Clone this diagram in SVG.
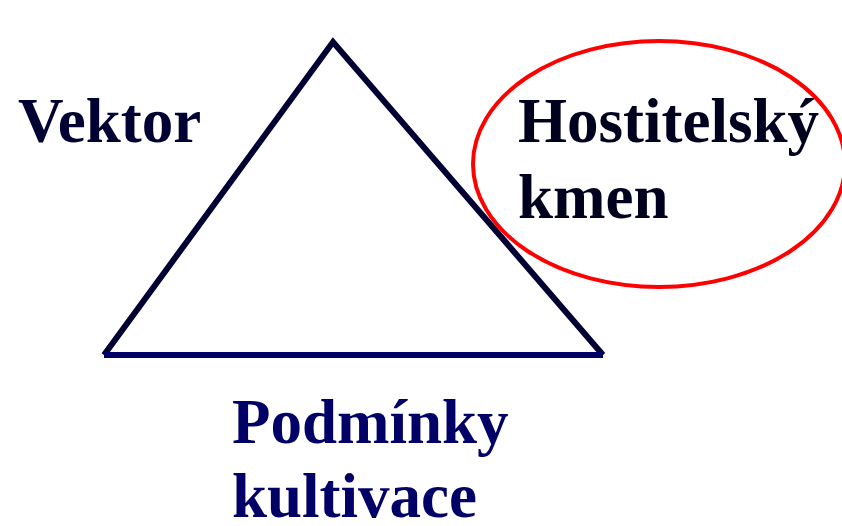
<svg xmlns="http://www.w3.org/2000/svg" width="842" height="526" viewBox="0 0 842 526">
<style>
.t{font-family:"Liberation Serif","Times New Roman",serif;font-weight:bold;font-size:63px}
</style>
<rect width="842" height="526" fill="#ffffff"/>
<g id="triangle">
<path d="M104,355 L333,42 L603,355" fill="none" stroke="#000033" stroke-width="6" stroke-linejoin="miter"/>
<line x1="104" y1="355" x2="603" y2="355" stroke="#000066" stroke-width="6"/>
</g>
<g id="vektor"><text class="t" x="18" y="142" fill="#000033">Vektor</text></g>
<g id="hostitelsky">
<ellipse cx="659" cy="164" rx="186" ry="123" fill="none" stroke="#ff0000" stroke-width="4"/>
<text class="t" x="518" y="142" fill="#00001f">Hostitelský</text>
<text class="t" x="518" y="218" fill="#00001f">kmen</text>
</g>
<g id="podminky">
<text class="t" x="232" y="443" fill="#000066">Podmínky</text>
<text class="t" x="232" y="517" fill="#000066">kultivace</text>
</g>
</svg>
